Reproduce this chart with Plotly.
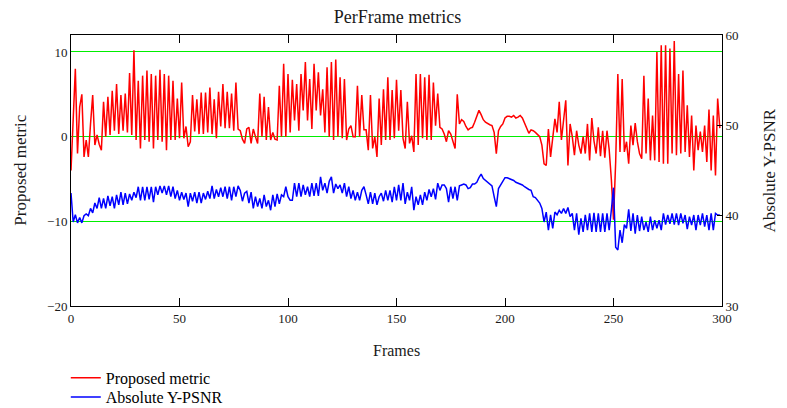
import plotly.graph_objects as go

frames = list(range(300))

proposed_metric = [
    -4.0, 2.5, 8.0, -2.0, 3.5, 5.0, -2.4, -0.4, -2.4, 1.5,
    4.9, -1.0, 0.2, -0.9, -1.6, 4.1, 0.0, 4.7, 0.2, 5.4,
    0.7, 6.2, 0.3, 4.9, 0.7, 5.1, 0.5, 7.5, 0.2, 10.2,
    -0.4, 6.6, -1.4, 7.2, -0.4, 7.8, -0.6, 7.4, -1.4, 7.2,
    -0.4, 7.9, -0.6, 7.4, -1.6, 7.2, -0.4, 6.6, -0.4, 4.5,
    -0.2, 6.4, -0.2, 1.2, -1.2, -0.6, 4.9, 0.6, 4.4, 0.3,
    5.2, 0.3, 5.2, 0.5, 5.8, 0.3, 4.4, -0.2, 5.3, 1.2,
    6.2, 1.0, 5.3, 1.0, 5.1, 0.7, 6.4, 0.9, 0.7, -0.3,
    -0.8, 0.9, 1.1, -0.8, 0.9, 0.0, -0.8, 5.1, 0.0, 4.7,
    -0.4, 3.5, -0.4, 0.5, -0.3, -0.4, 6.0, 0.0, 8.6, 0.0,
    7.4, 0.5, 6.7, 1.9, 6.2, 0.7, 7.4, 3.1, 8.8, 1.9,
    6.8, 0.9, 8.6, 3.1, 7.6, 2.5, 5.6, 0.5, 8.2, 0.0,
    8.8, -0.4, 9.1, 0.0, 7.0, -0.2, 6.8, -0.4, 0.9, 1.3,
    0.0, 0.0, 6.0, 0.0, 4.9, 0.8, 0.8, -1.6, 4.9, -1.4,
    0.0, -2.4, 4.5, -1.0, 5.6, -0.4, 7.0, -0.4, 5.5, -0.2,
    6.7, 0.7, 5.5, -0.2, -1.4, 4.1, -0.8, 0.1, -1.8, 7.4,
    -1.0, 7.4, -0.2, 7.0, -0.4, 7.3, -0.4, 6.4, 1.3, 5.1,
    1.1, 0.9, 0.3, -0.6, 0.7, 0.3, -0.6, -1.4, 5.0, 1.5,
    2.0, 1.8, 1.2, 0.8, 1.0, 1.1, 1.7, 2.3, 3.1, 2.6,
    2.0, 1.7, 1.5, 1.4, 1.3, 0.5, -2.0, 0.7, 1.2, 1.5,
    2.2, 2.4, 2.4, 2.3, 2.5, 2.2, 2.3, 2.5, 2.2, 1.6,
    0.9, 0.4, 0.8, 0.7, 0.5, 0.2, 0.0, -1.0, -3.2, -3.4,
    0.9, -2.4, -0.4, 2.1, 0.5, 4.1, -0.4, 2.2, 4.3, -3.4,
    1.5, 0.0, -2.2, 0.7, -1.0, -2.0, 0.0, -2.0, 1.5, -2.8,
    2.2, -0.5, -2.0, 1.1, -2.3, 0.7, -2.5, 0.7, -1.5, -5.0,
    -9.8, -3.0, 7.4, -1.8, 6.8, -1.8, -0.6, -3.2, 1.3, -1.0,
    1.6, -0.6, -2.0, -2.6, 7.2, -2.0, 4.5, -2.8, 2.5, -2.8,
    10.0, -3.0, 10.8, -3.2, 10.8, -3.2, 10.4, -2.0, 11.3, -2.2,
    7.4, -2.0, 7.8, -1.8, 3.7, -2.4, 2.5, -4.0, 1.3, -1.6,
    0.6, -1.8, 1.3, -3.0, 3.2, -4.0, 2.5, -4.6, 4.5, 1.0,
]

absolute_psnr = [
    42.5, 39.3, 40.1, 39.2, 39.8, 39.2, 40.0, 40.2, 40.0, 40.8,
    40.3, 41.4, 40.8, 42.0, 40.8, 41.9, 40.8, 42.2, 41.1, 42.1,
    40.8, 42.3, 41.2, 42.6, 41.2, 42.5, 41.3, 42.4, 41.7, 42.6,
    42.0, 43.2, 41.7, 43.2, 41.7, 43.2, 41.8, 43.2, 41.5, 43.2,
    42.3, 43.3, 42.5, 43.3, 42.3, 43.3, 42.1, 43.2, 41.9, 42.8,
    41.7, 42.6, 41.8, 42.5, 41.0, 42.5, 41.6, 42.6, 41.4, 42.6,
    41.4, 42.5, 41.8, 42.7, 41.9, 43.3, 41.9, 42.9, 42.1, 43.1,
    42.1, 43.2, 41.9, 43.2, 41.7, 43.2, 42.1, 43.3, 42.8, 41.6,
    42.5, 42.7, 41.4, 42.6, 40.8, 42.1, 41.0, 41.9, 40.8, 42.3,
    41.0, 41.7, 40.6, 42.3, 41.0, 42.4, 41.3, 42.3, 42.1, 43.2,
    42.1, 41.7, 41.7, 43.6, 42.1, 43.6, 42.1, 43.4, 42.3, 43.2,
    42.1, 43.6, 42.2, 43.6, 42.2, 44.3, 42.8, 43.6, 42.5, 43.8,
    44.3, 42.5, 43.5, 43.0, 43.4, 42.5, 43.6, 42.1, 43.2, 41.9,
    42.8, 41.7, 42.6, 41.7, 42.8, 43.2, 42.3, 41.3, 42.6, 41.3,
    42.5, 41.2, 42.1, 42.5, 41.6, 42.8, 41.7, 42.8, 41.5, 43.2,
    41.7, 43.4, 41.7, 43.6, 41.3, 42.6, 41.7, 43.2, 40.6, 42.1,
    41.2, 42.3, 41.2, 42.6, 41.7, 42.9, 42.1, 43.0, 41.8, 43.6,
    42.8, 43.4, 43.4, 43.0, 41.5, 43.2, 41.9, 43.2, 41.7, 43.3,
    43.4, 43.5, 43.4, 43.0, 43.1, 43.5, 43.5, 43.7, 44.2, 44.6,
    44.1, 43.9, 43.7, 43.6, 43.3, 42.1, 41.0, 43.0, 43.4, 43.9,
    44.2, 44.2, 44.1, 44.0, 43.9, 43.7, 43.6, 43.5, 43.4, 43.2,
    43.0, 42.9, 42.8, 42.1, 42.0, 41.7, 41.4, 40.8, 39.3, 40.4,
    38.4, 40.1, 38.6, 40.4, 40.1, 40.6, 40.25, 40.8, 40.25, 40.9,
    39.9, 40.25, 38.4, 40.25, 37.9, 39.7, 38.2, 40.1, 38.4, 40.25,
    38.2, 40.3, 38.2, 40.25, 38.2, 40.25, 38.2, 40.25, 38.4, 40.6,
    43.1, 36.5, 36.2, 38.4, 37.0, 39.0, 38.6, 40.7, 38.3, 40.25,
    38.0, 40.07, 38.3, 39.9, 38.4, 39.3, 38.2, 39.9, 38.4, 39.5,
    38.6, 39.5, 38.4, 40.25, 39.0, 40.07, 39.1, 40.25, 39.0, 40.25,
    38.96, 40.25, 39.15, 40.07, 38.5, 39.9, 38.96, 40.07, 38.4, 40.07,
    38.96, 40.25, 38.8, 40.07, 38.4, 40.25, 38.4, 40.25, 40.07, 40.07,
]

x_ticks = [0, 50, 100, 150, 200, 250, 300]
left_ticks = [-20, -10, 0, 10]
right_ticks = [30, 40, 50, 60]

FONT = "Liberation Serif, Times New Roman, serif"
GREEN = "#00ee00"
TXT = "#1a1a1a"

fig = go.Figure()
fig.add_trace(go.Scatter(x=frames, y=proposed_metric, mode="lines",
                         name="Proposed metric", legend="legend",
                         line=dict(color="#ff0000", width=1.5)))
fig.add_trace(go.Scatter(x=frames, y=absolute_psnr, mode="lines",
                         name="Absolute Y-PSNR", yaxis="y2", legend="legend2",
                         line=dict(color="#0000ff", width=1.5)))

leg_common = dict(xanchor="left", yanchor="middle", orientation="v",
                  font=dict(family=FONT, size=16, color="black"),
                  bgcolor="rgba(0,0,0,0)", borderwidth=0)

# page body has an 8px margin, so the figure is sized 779x400
fig.update_layout(
    width=779, height=400,
    margin=dict(l=63, r=65, t=27, b=102, autoexpand=False),
    paper_bgcolor="white", plot_bgcolor="white",
    font=dict(family=FONT, size=13, color=TXT),
    title=dict(text="PerFrame metrics", x=0.5, xanchor="center",
               y=0.9775, yanchor="middle",
               font=dict(family=FONT, size=18, color=TXT)),
    xaxis=dict(range=[0, 300], tickvals=x_ticks, ticks="inside", ticklen=8,
               tickcolor="black", showline=True, linecolor="black",
               linewidth=1, mirror="ticks", showgrid=False, zeroline=False,
               tickfont=dict(size=13), automargin=False),
    yaxis=dict(range=[-20, 12], tickvals=left_ticks, ticks="",
               showline=True, linecolor="black", linewidth=1, mirror=False,
               showgrid=True, gridcolor=GREEN, gridwidth=1, zeroline=False,
               tickfont=dict(size=13), automargin=False),
    yaxis2=dict(range=[30, 60], tickvals=right_ticks, overlaying="y",
                side="right", ticks="inside", ticklen=5, tickcolor="black",
                showline=True, linecolor="black", linewidth=1,
                showgrid=False, zeroline=False, tickfont=dict(size=13),
                automargin=False),
    legend=dict(x=-0.008, y=-0.265, **leg_common),
    legend2=dict(x=-0.008, y=-0.336, **leg_common),
    showlegend=True,
    annotations=[
        dict(text="Frames", xref="paper", yref="paper", x=0.5, y=-0.163,
             xanchor="center", yanchor="middle", showarrow=False,
             font=dict(family=FONT, size=16, color=TXT)),
        dict(text="Proposed metric", xref="paper", yref="paper", x=-0.078,
             y=0.5, xanchor="center", yanchor="middle", textangle=-90,
             showarrow=False, font=dict(family=FONT, size=17, color=TXT)),
        dict(text="Absolute Y-PSNR", xref="paper", yref="paper", x=1.0737,
             y=0.5, xanchor="center", yanchor="middle", textangle=-90,
             showarrow=False, font=dict(family=FONT, size=17, color=TXT)),
    ],
)

fig.write_html("out.html")
